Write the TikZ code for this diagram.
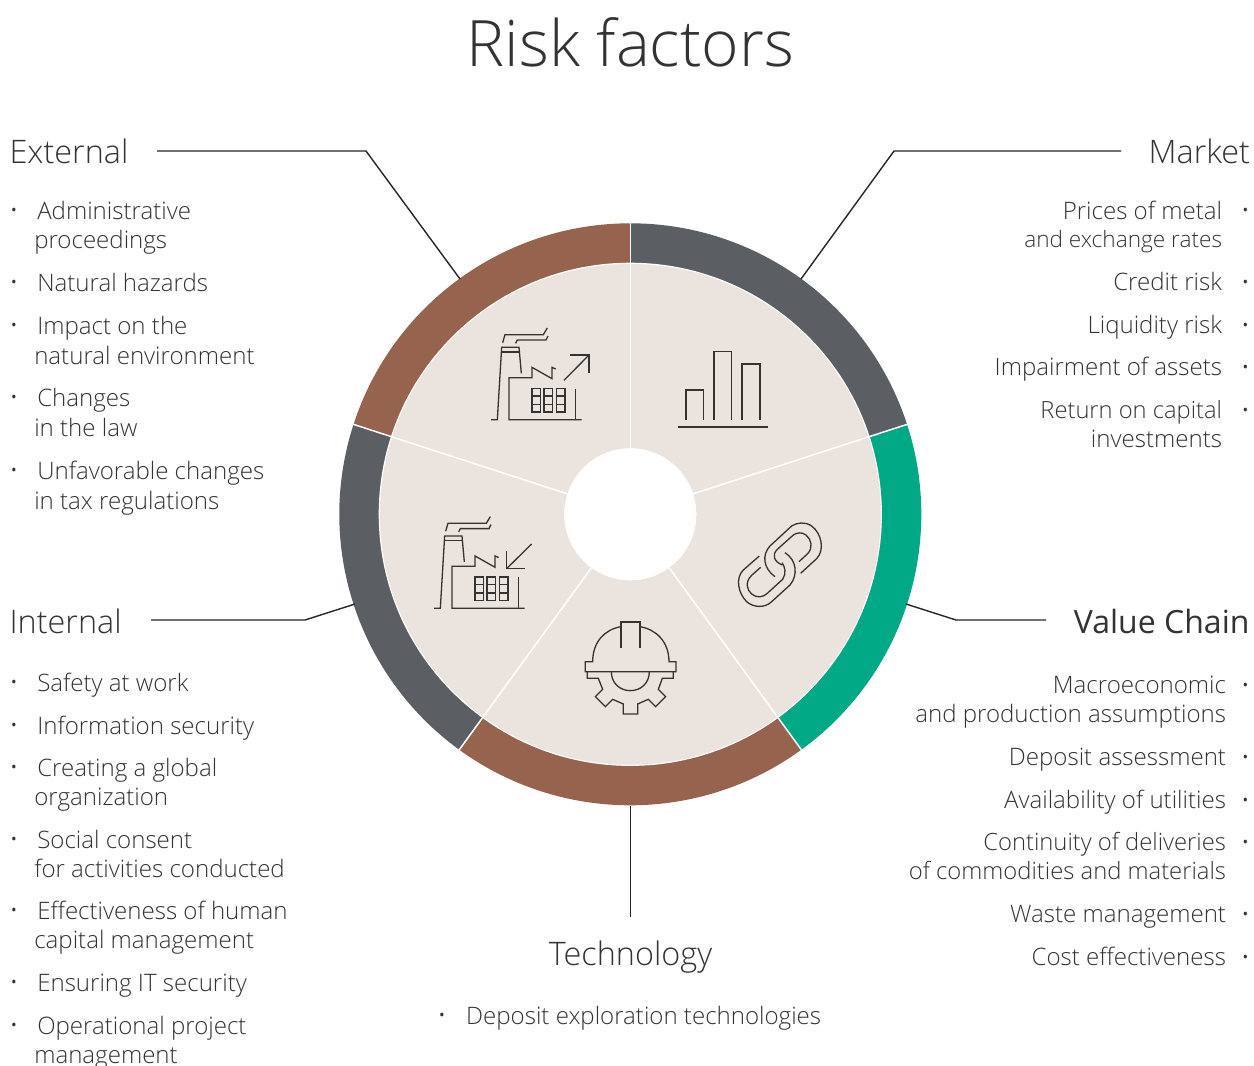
\documentclass[tikz,border=0pt]{standalone}
\usepackage{fontspec}
\setmainfont{Open Sans Light}
\newfontfamily\regf{Open Sans}
\definecolor{ringbrown}{HTML}{96634F}
\definecolor{ringgray}{HTML}{5B5E62}
\definecolor{ringgreen}{HTML}{00A886}
\definecolor{segfill}{HTML}{EBE3DD}
\definecolor{inkc}{HTML}{333333}
\tikzset{
 itembase/.style={inner sep=0pt,outer sep=0pt,text=inkc,font=\fontsize{24.06}{24}\selectfont,yshift=1pt},
 lineitem/.style={itembase,anchor=base west,xshift=-0.7pt},
 lineitemr/.style={itembase,anchor=base east},
 headl/.style={inner sep=0pt,outer sep=0pt,text=inkc,font=\fontsize{32.4}{32}\selectfont,anchor=base west,yshift=0.7pt},
 headr/.style={headl,anchor=base east},
 bul/.style={inner sep=0pt,outer sep=0pt,text=inkc,font=\regf\fontsize{15}{15}\selectfont,anchor=center,yshift=-2.2pt},
 conn/.style={draw=black!85,line width=1.4pt},
 icon/.style={draw=inkc,line width=1.3pt,line join=miter},
}
\newcommand{\seg}[3]{%
 \fill[segfill] (#1:66) -- (#1:251) arc (#1:#2:251) -- (#2:66) arc (#2:#1:66) -- cycle;
 \fill[#3] (#1:251) -- (#1:291) arc (#1:#2:291) -- (#2:251) arc (#2:#1:251) -- cycle;}
\newcommand{\factory}{%
 \draw[icon] (63,329)--(82,329)--(95,112)--(147,112)--(154,190);
 \draw[icon] (95,126)--(148,126);
 \draw[icon] (98,98)--(105,74)--(220,74)--(232,54);
 \draw[icon] (137,100)--(142,90)--(228,90)--(234,78);
 \draw[icon] (257,177)--(246,172)--(246,206)--(186,172)--(186,203)--(117,203)--(117,329)--(335,329);
 \draw[icon] (316,236)--(316,329);
 \draw[icon] (186,235) rectangle (211,306) (222,235) rectangle (248,306) (260,235) rectangle (285,306);
 \draw[icon] (186,258)--(211,258) (186,283)--(211,283) (222,258)--(248,258) (222,283)--(248,283) (260,258)--(285,258) (260,283)--(285,283);}
\begin{document}
\begin{tikzpicture}[x=1pt,y=-1pt]
\useasboundingbox (0,0) rectangle (1254,1066);
\fill[white] (0,0) rectangle (1254,1066);
\node[inner sep=0pt,outer sep=0pt,text=inkc,font=\fontsize{64}{64}\selectfont,anchor=base] (title) at (630.5,66.5) {Risk factors};
% wheel
\begin{scope}[shift={(630.3,514.3)},x=1pt,y=1pt]
 \seg{18}{90}{ringgray}
 \seg{90}{162}{ringbrown}
 \seg{162}{234}{ringgray}
 \seg{234}{306}{ringbrown}
 \seg{306}{378}{ringgreen}
 \foreach \a in {18,90,162,234,306} \draw[white,line width=1.5pt] (\a:66) -- (\a:292);
 \draw[white,line width=1.2pt] (0,0) circle (251);
 \fill[white] (0,0) circle (66);
\end{scope}
% icons
\begin{scope}[shift={(470,310)},x=0.3333pt,y=-0.3333pt]
 \factory
 \draw[icon] (282,211)--(357,135);
 \draw[icon] (300,135)--(357,135)--(357,190);
 \draw[icon] (648,330)--(648,240)--(701,240)--(701,330);
 \draw[icon] (732,330)--(732,124)--(785,124)--(785,330);
 \draw[icon] (816,330)--(816,162)--(870,162)--(870,330);
 \draw[icon,line width=1.6pt] (623,351)--(895,351);
\end{scope}
\begin{scope}[shift={(413,498.6)},x=0.3333pt,y=-0.3333pt]
 \factory
 \draw[icon] (356,136)--(281,210);
 \draw[icon] (281,156)--(281,210)--(337,210);
\end{scope}
\begin{scope}[shift={(570,510)},x=0.3333pt,y=-0.3333pt]
 % chain
 \draw[icon] (692,190) -- (740,146) .. controls (765,120) and (755,70) .. (725,48) .. controls (705,34) and (680,38) .. (665,48) -- (600,108) .. controls (575,135) and (580,175) .. (615,200);
 \draw[icon] (687,155) -- (712,132) .. controls (730,115) and (725,88) .. (708,75) .. controls (695,65) and (680,68) .. (670,75) -- (622,118) .. controls (605,135) and (612,155) .. (637,165);
 \draw[icon] (568,138) -- (520,180) .. controls (495,205) and (505,250) .. (530,275) .. controls (550,293) and (585,295) .. (605,275) -- (660,225) .. controls (685,195) and (680,150) .. (645,128);
 \draw[icon] (572,172) -- (545,196) .. controls (525,215) and (530,240) .. (545,252) .. controls (560,265) and (580,262) .. (592,250) -- (638,208) .. controls (650,190) and (645,170) .. (636,158);
 % helmet
 \draw[icon] (153,413)--(153,336)--(210,336)--(210,413);
 \draw[icon] (153,350) .. controls (105,358) and (68,395) .. (68,455)--(46,455)--(46,485)--(318,485)--(318,455)--(297,455) .. controls (297,395) and (258,358) .. (210,350);
 \draw[icon] (52,485)--(52,505)--(85,505)--(98,538)--(76,560)--(106,590)--(128,568)--(160,582)--(160,612)--(203,612)--(203,582)--(235,568)--(257,590)--(287,560)--(265,538)--(277,505)--(310,505)--(310,485);
 \draw[icon] (124,485) .. controls (124,520) and (150,542) .. (181,542) .. controls (212,542) and (238,520) .. (238,485);
\end{scope}
% External
\node[headl] (hext) at (9.5,164) {External};
\node[bul] (be1) at (14,210) {•};
\node[lineitem] (e1a) at (38,220) {Administrative};
\node[lineitem] (e1b) at (35,249) {proceedings};
\node[bul] (be2) at (14,282) {•};
\node[lineitem] (e2) at (38,292) {Natural hazards};
\node[bul] (be3) at (14,325) {•};
\node[lineitem] (e3a) at (38,335) {Impact on the};
\node[lineitem] (e3b) at (35,365) {natural environment};
\node[bul] (be4) at (14,397) {•};
\node[lineitem] (e4a) at (38,407) {Changes};
\node[lineitem] (e4b) at (35,437) {in the law};
\node[bul] (be5) at (14,470) {•};
\node[lineitem] (e5a) at (38,480) {Unfavorable changes};
\node[lineitem] (e5b) at (35,510) {in tax regulations};
% Internal
\node[headl] (hint) at (9.5,634) {Internal};
\node[bul] (bi1) at (14,682) {•};
\node[lineitem] (i1) at (38,692) {Safety at work};
\node[bul] (bi2) at (14,725) {•};
\node[lineitem] (i2) at (38,735) {Information security};
\node[bul] (bi3) at (14,767) {•};
\node[lineitem] (i3a) at (38,777) {Creating a global};
\node[lineitem] (i3b) at (35,806) {organization};
\node[bul] (bi4) at (14,839) {•};
\node[lineitem] (i4a) at (38,849) {Social consent};
\node[lineitem] (i4b) at (35,878) {for activities conducted};
\node[bul] (bi5) at (14,910) {•};
\node[lineitem] (i5a) at (38,920) {Effectiveness of human};
\node[lineitem] (i5b) at (35,949) {capital management};
\node[bul] (bi6) at (14,982) {•};
\node[lineitem] (i6) at (38,992) {Ensuring IT security};
\node[bul] (bi7) at (14,1025) {•};
\node[lineitem] (i7a) at (38,1035) {Operational project};
\node[lineitem] (i7b) at (35,1064) {management};
% Market
\node[headr] (hmkt) at (1250,164) {Market};
\node[bul] (bm1) at (1245.5,210) {•};
\node[lineitemr] (m1a) at (1222,220) {Prices of metal};
\node[lineitemr,font=\fontsize{22.6}{24}\selectfont] (m1b) at (1222,248) {and exchange rates};
\node[bul] (bm2) at (1245.5,282) {•};
\node[lineitemr] (m2) at (1222,291) {Credit risk};
\node[bul] (bm3) at (1245.5,325) {•};
\node[lineitemr] (m3) at (1222,334) {Liquidity risk};
\node[bul] (bm4) at (1245.5,367) {•};
\node[lineitemr] (m4) at (1222,376) {Impairment of assets};
\node[bul] (bm5) at (1245.5,410) {•};
\node[lineitemr,font=\fontsize{23.7}{24}\selectfont] (m5a) at (1222,419) {Return on capital};
\node[lineitemr] (m5b) at (1222,448) {investments};
% Value chain
\node[headr,font=\regf\fontsize{32}{32}\selectfont] (hval) at (1249.5,634) {Value Chain};
\node[bul] (bv1) at (1245.5,685) {•};
\node[lineitemr] (v1a) at (1226,694) {Macroeconomic};
\node[lineitemr] (v1b) at (1226,723) {and production assumptions};
\node[bul] (bv2) at (1245.5,757) {•};
\node[lineitemr] (v2) at (1226,766) {Deposit assessment};
\node[bul] (bv3) at (1245.5,800) {•};
\node[lineitemr] (v3) at (1226,809) {Availability of utilities};
\node[bul] (bv4) at (1245.5,842) {•};
\node[lineitemr,font=\fontsize{23.8}{24}\selectfont] (v4a) at (1226,851) {Continuity of deliveries};
\node[lineitemr,font=\fontsize{23.8}{24}\selectfont] (v4b) at (1226,880) {of commodities and materials};
\node[bul] (bv5) at (1245.5,914) {•};
\node[lineitemr] (v5) at (1226,923) {Waste management};
\node[bul] (bv6) at (1245.5,957) {•};
\node[lineitemr] (v6) at (1226,966) {Cost effectiveness};
% Technology
\node[headl,anchor=base] (htec) at (630.5,966) {Technology};
\node[bul] (bt1) at (442,1015) {•};
\node[lineitem,xshift=0.9pt] (t1) at (466,1025) {Deposit exploration technologies};
% connectors
\coordinate (extst) at (157,151);
\coordinate (extne) at (460,279);
\coordinate (mktst) at (1121,151);
\coordinate (mktne) at (801,279);
\coordinate (intst) at (151,620);
\coordinate (intne) at (355,604);
\coordinate (valst) at (1046,620);
\coordinate (valne) at (906,604);
\coordinate (tecst) at (630.5,917);
\coordinate (tecne) at (630.5,806);
\draw[conn] (extst) -- (366,151) -- (extne);
\draw[conn] (mktst) -- (894,151) -- (mktne);
\draw[conn] (intst) -- (305,620) -- (intne);
\draw[conn] (valst) -- (956,620) -- (valne);
\draw[conn] (tecst) -- (tecne);
\end{tikzpicture}
\end{document}
